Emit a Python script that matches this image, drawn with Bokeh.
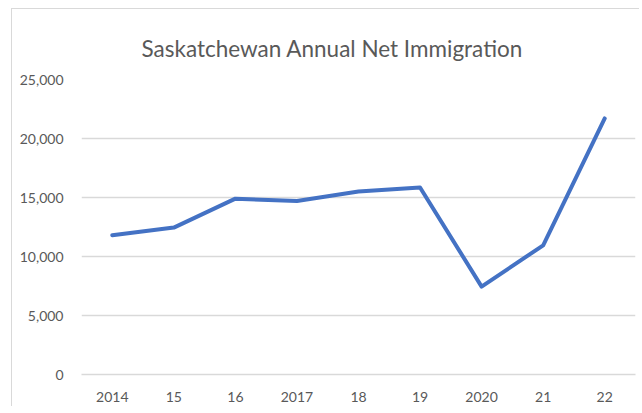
from bokeh.plotting import figure
from bokeh.models import Range1d, NumeralTickFormatter, FixedTicker
from bokeh.embed import file_html
from bokeh.resources import INLINE

years = ["2014", "15", "16", "2017", "18", "19", "2020", "21", "22"]
net_immigration = [11800, 12450, 14900, 14700, 15500, 15850, 7450, 10950, 21700]
y_ticks = [0, 5000, 10000, 15000, 20000, 25000]
title_text = "Saskatchewan Annual Net Immigration"

FONT = "Lato"
TXT = "#595959"
GRID = "#d9d9d9"

p = figure(width=628, height=398, x_range=years, y_range=Range1d(0, 25000),
           output_backend="svg", toolbar_location=None,
           min_border_left=69, min_border_right=5, min_border_top=70, min_border_bottom=33)

p.line(x=years, y=net_immigration, line_color="#4472C4", line_width=4,
       line_join="round", line_cap="round")

p.title.text = title_text
p.title.text_font = FONT
p.title.text_font_size = "22.5px"
p.title.text_font_style = "normal"
p.title.text_color = TXT
p.title.align = "left"
p.title.offset = 60
p.title.standoff = 35

p.outline_line_color = None
p.background_fill_color = "white"
p.border_fill_color = "white"

p.xgrid.grid_line_color = None
p.ygrid.grid_line_color = GRID
p.ygrid.grid_line_width = 1.3

p.yaxis.ticker = FixedTicker(ticks=y_ticks)
p.yaxis.formatter = NumeralTickFormatter(format="0,0")
p.yaxis.axis_line_color = None
p.yaxis.major_tick_line_color = None
p.yaxis.minor_tick_line_color = None
p.yaxis.major_label_standoff = 12
p.yaxis.major_label_text_font = FONT
p.yaxis.major_label_text_font_size = "14px"
p.yaxis.major_label_text_color = TXT

p.xaxis.axis_line_color = GRID
p.xaxis.axis_line_width = 1.3
p.xaxis.major_tick_line_color = None
p.xaxis.minor_tick_line_color = None
p.xaxis.major_label_standoff = 11
p.xaxis.major_label_text_font = FONT
p.xaxis.major_label_text_font_size = "14px"
p.xaxis.major_label_text_color = TXT

p.styles = {"border-top": "1px solid #d9d9d9", "border-left": "1px solid #d9d9d9",
            "margin-left": "11px", "margin-top": "8px"}

open("out.html", "w").write(file_html(p, INLINE))
